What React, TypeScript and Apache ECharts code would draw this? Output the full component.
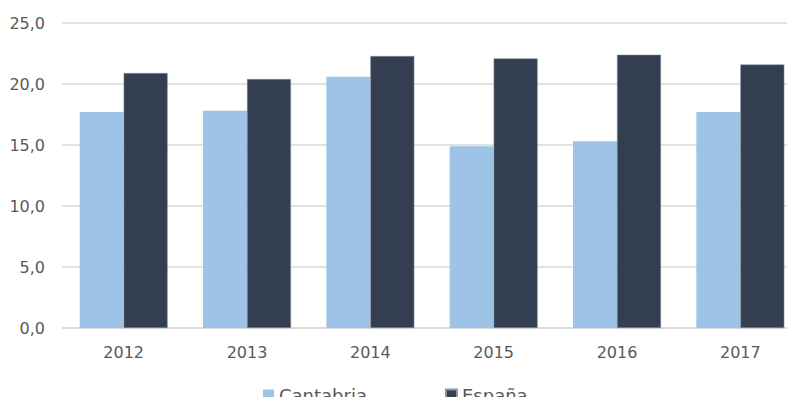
import React, { useEffect, useRef } from "react";
import * as echarts from "echarts";

const categories = ["2012", "2013", "2014", "2015", "2016", "2017"];
const cantabria = [17.7, 17.8, 20.6, 14.9, 15.3, 17.7];
const espana = [20.9, 20.4, 22.3, 22.1, 22.4, 21.6];

const FONT = "'DejaVu Sans', sans-serif";

export default function App() {
  const ref = useRef<HTMLDivElement>(null);
  useEffect(() => {
    if (!ref.current) return;
    const chart = echarts.init(ref.current, undefined, { renderer: "svg" });
    chart.setOption({
      animation: false,
      grid: { left: 62, top: 23, width: 740, height: 305, outerBoundsMode: "none", containLabel: false },
      legend: {
        data: ["Cantabria", "España"],
        top: 386,
        left: 263,
        padding: 0,
        itemWidth: 11,
        itemHeight: 11,
        itemGap: 78,
        icon: "rect",
        textStyle: { fontFamily: FONT, fontSize: 18, color: "#595959" },
      },
      xAxis: {
        type: "category",
        data: categories,
        axisLine: { lineStyle: { color: "#d9d9d9", width: 1.5 } },
        axisTick: { show: false },
        axisLabel: { fontFamily: FONT, fontSize: 16, color: "#595959", margin: 16 },
      },
      yAxis: {
        type: "value",
        min: 0,
        max: 25,
        interval: 5,
        axisLine: { show: false },
        axisTick: { show: false },
        splitLine: { lineStyle: { color: "#d9d9d9", width: 1.5 } },
        axisLabel: {
          fontFamily: FONT,
          fontSize: 16,
          color: "#595959",
          margin: 17,
          formatter: (v: number) => v.toFixed(1).replace(".", ","),
        },
      },
      series: [
        {
          name: "Cantabria",
          type: "bar",
          data: cantabria,
          barGap: "0%",
          barCategoryGap: "28.7%",
          itemStyle: { color: "#9DC3E6" },
        },
        {
          name: "España",
          type: "bar",
          data: espana,
          itemStyle: { color: "#333F50", borderColor: "#8a94a3", borderWidth: 0.5 },
        },
      ],
    });
    return () => chart.dispose();
  }, []);
  return <div ref={ref} style={{ width: 795, height: 405, margin: -8 }} />;
}
